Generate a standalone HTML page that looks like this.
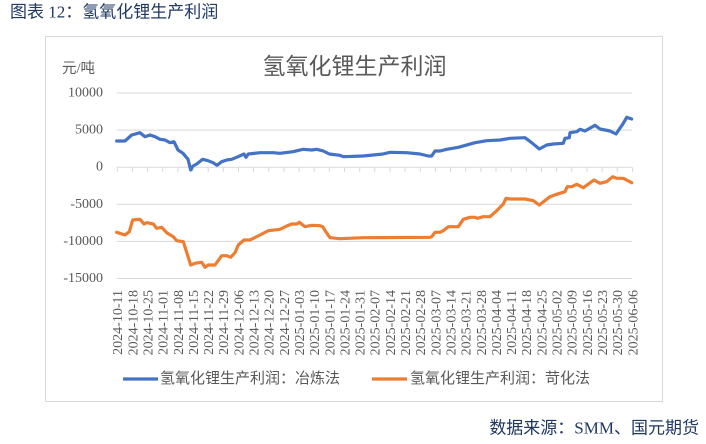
<!DOCTYPE html>
<html>
<head>
<meta charset="utf-8">
<style>
  html,body{margin:0;padding:0;background:#fff;}
  body{width:706px;height:444px;overflow:hidden;}
  svg{display:block;}
  .cjk{font-family:"Liberation Serif","Noto Sans CJK SC",sans-serif;}
  .num{font-family:"Liberation Serif",serif;}
</style>
</head>
<body>
<svg width="706" height="444" viewBox="0 0 706 444" xmlns="http://www.w3.org/2000/svg">
  <rect x="0" y="0" width="706" height="444" fill="#ffffff"/>
  <!-- header -->
  <text x="10" y="12" dominant-baseline="central" class="cjk" font-size="17" fill="#1F3763">图表 12：氢氧化锂生产利润</text>
  <!-- chart box -->
  <rect x="45.5" y="36.5" width="617" height="365" fill="#ffffff" stroke="#d9d9d9" stroke-width="1"/>
  <!-- title -->
  <text x="354.5" y="64" text-anchor="middle" dominant-baseline="central" font-family="'Noto Sans CJK SC',sans-serif" font-size="23" fill="#595959">氢氧化锂生产利润</text>
  <!-- unit -->
  <text x="62" y="69" dominant-baseline="central" class="cjk" font-size="14.5" fill="#595959">元/吨</text>
  <!-- gridlines -->
  <g stroke="#d9d9d9" stroke-width="1">
    <line x1="116.7" y1="93" x2="632" y2="93"/>
    <line x1="116.7" y1="130.1" x2="632" y2="130.1"/>
    <line x1="116.7" y1="167.2" x2="632" y2="167.2"/>
    <line x1="116.7" y1="204.3" x2="632" y2="204.3"/>
    <line x1="116.7" y1="241.4" x2="632" y2="241.4"/>
    <line x1="116.7" y1="278.5" x2="632" y2="278.5"/>
  </g>
  <!-- y labels -->
  <g class="num" font-size="14" fill="#595959" text-anchor="end" dominant-baseline="central">
    <text x="103" y="93">10000</text>
    <text x="103" y="130.1">5000</text>
    <text x="103" y="167.2">0</text>
    <text x="103" y="204.3">-5000</text>
    <text x="103" y="241.4">-10000</text>
    <text x="103" y="278.5">-15000</text>
  </g>
  <!-- ticks -->
  <g stroke="#d9d9d9" stroke-width="1" id="ticks">
    <line x1="117.3" y1="167.2" x2="117.3" y2="172"/><line x1="132.4" y1="167.2" x2="132.4" y2="172"/><line x1="147.6" y1="167.2" x2="147.6" y2="172"/><line x1="162.7" y1="167.2" x2="162.7" y2="172"/><line x1="177.9" y1="167.2" x2="177.9" y2="172"/><line x1="193.0" y1="167.2" x2="193.0" y2="172"/><line x1="208.2" y1="167.2" x2="208.2" y2="172"/><line x1="223.3" y1="167.2" x2="223.3" y2="172"/><line x1="238.5" y1="167.2" x2="238.5" y2="172"/><line x1="253.6" y1="167.2" x2="253.6" y2="172"/><line x1="268.8" y1="167.2" x2="268.8" y2="172"/><line x1="283.9" y1="167.2" x2="283.9" y2="172"/><line x1="299.1" y1="167.2" x2="299.1" y2="172"/><line x1="314.2" y1="167.2" x2="314.2" y2="172"/><line x1="329.4" y1="167.2" x2="329.4" y2="172"/><line x1="344.5" y1="167.2" x2="344.5" y2="172"/><line x1="359.7" y1="167.2" x2="359.7" y2="172"/><line x1="374.8" y1="167.2" x2="374.8" y2="172"/><line x1="390.0" y1="167.2" x2="390.0" y2="172"/><line x1="405.1" y1="167.2" x2="405.1" y2="172"/><line x1="420.3" y1="167.2" x2="420.3" y2="172"/><line x1="435.4" y1="167.2" x2="435.4" y2="172"/><line x1="450.6" y1="167.2" x2="450.6" y2="172"/><line x1="465.7" y1="167.2" x2="465.7" y2="172"/><line x1="480.9" y1="167.2" x2="480.9" y2="172"/><line x1="496.0" y1="167.2" x2="496.0" y2="172"/><line x1="511.2" y1="167.2" x2="511.2" y2="172"/><line x1="526.3" y1="167.2" x2="526.3" y2="172"/><line x1="541.5" y1="167.2" x2="541.5" y2="172"/><line x1="556.6" y1="167.2" x2="556.6" y2="172"/><line x1="571.8" y1="167.2" x2="571.8" y2="172"/><line x1="586.9" y1="167.2" x2="586.9" y2="172"/><line x1="602.1" y1="167.2" x2="602.1" y2="172"/><line x1="617.2" y1="167.2" x2="617.2" y2="172"/><line x1="632.4" y1="167.2" x2="632.4" y2="172"/>
  </g>
  <!-- x labels -->
  <g class="num" font-size="14" fill="#595959" text-anchor="end">
    <text transform="translate(117.3,290) rotate(-90)" dy="0.35em">2024-10-11</text>
    <text transform="translate(132.4,290) rotate(-90)" dy="0.35em">2024-10-18</text>
    <text transform="translate(147.6,290) rotate(-90)" dy="0.35em">2024-10-25</text>
    <text transform="translate(162.7,290) rotate(-90)" dy="0.35em">2024-11-01</text>
    <text transform="translate(177.9,290) rotate(-90)" dy="0.35em">2024-11-08</text>
    <text transform="translate(193.0,290) rotate(-90)" dy="0.35em">2024-11-15</text>
    <text transform="translate(208.2,290) rotate(-90)" dy="0.35em">2024-11-22</text>
    <text transform="translate(223.3,290) rotate(-90)" dy="0.35em">2024-11-29</text>
    <text transform="translate(238.5,290) rotate(-90)" dy="0.35em">2024-12-06</text>
    <text transform="translate(253.6,290) rotate(-90)" dy="0.35em">2024-12-13</text>
    <text transform="translate(268.8,290) rotate(-90)" dy="0.35em">2024-12-20</text>
    <text transform="translate(283.9,290) rotate(-90)" dy="0.35em">2024-12-27</text>
    <text transform="translate(299.1,290) rotate(-90)" dy="0.35em">2025-01-03</text>
    <text transform="translate(314.2,290) rotate(-90)" dy="0.35em">2025-01-10</text>
    <text transform="translate(329.4,290) rotate(-90)" dy="0.35em">2025-01-17</text>
    <text transform="translate(344.5,290) rotate(-90)" dy="0.35em">2025-01-24</text>
    <text transform="translate(359.7,290) rotate(-90)" dy="0.35em">2025-01-31</text>
    <text transform="translate(374.8,290) rotate(-90)" dy="0.35em">2025-02-07</text>
    <text transform="translate(390.0,290) rotate(-90)" dy="0.35em">2025-02-14</text>
    <text transform="translate(405.1,290) rotate(-90)" dy="0.35em">2025-02-21</text>
    <text transform="translate(420.3,290) rotate(-90)" dy="0.35em">2025-02-28</text>
    <text transform="translate(435.4,290) rotate(-90)" dy="0.35em">2025-03-07</text>
    <text transform="translate(450.6,290) rotate(-90)" dy="0.35em">2025-03-14</text>
    <text transform="translate(465.7,290) rotate(-90)" dy="0.35em">2025-03-21</text>
    <text transform="translate(480.9,290) rotate(-90)" dy="0.35em">2025-03-28</text>
    <text transform="translate(496.0,290) rotate(-90)" dy="0.35em">2025-04-04</text>
    <text transform="translate(511.2,290) rotate(-90)" dy="0.35em">2025-04-11</text>
    <text transform="translate(526.3,290) rotate(-90)" dy="0.35em">2025-04-18</text>
    <text transform="translate(541.5,290) rotate(-90)" dy="0.35em">2025-04-25</text>
    <text transform="translate(556.6,290) rotate(-90)" dy="0.35em">2025-05-02</text>
    <text transform="translate(571.8,290) rotate(-90)" dy="0.35em">2025-05-09</text>
    <text transform="translate(586.9,290) rotate(-90)" dy="0.35em">2025-05-16</text>
    <text transform="translate(602.1,290) rotate(-90)" dy="0.35em">2025-05-23</text>
    <text transform="translate(617.2,290) rotate(-90)" dy="0.35em">2025-05-30</text>
    <text transform="translate(632.4,290) rotate(-90)" dy="0.35em">2025-06-06</text>
  </g>
  <!-- series: orange -->
  <polyline fill="none" stroke="#ED7D31" stroke-width="3.2" stroke-linejoin="round" stroke-linecap="round"
    points="116.7,232.3 125,235 129.3,231.7 132.7,220 140,219.3 144,224 146.7,222.7 153.3,224 156.7,228.3 161.7,227.3 166.7,232.7 173.3,236.7 176.7,240.7 183.3,241.7 190.7,265 195,263.3 201.7,262.3 205,267.3 208.3,265 215,265 221.7,255.7 226.7,255.7 230.7,257.3 235,252.7 238.3,245 244,240 250,240 260,235 268.3,230.7 280,229.3 286.7,226 291.7,224 296.7,224 299.3,222.3 305,226.7 311.7,225.3 320,225.7 322.7,226.7 327.3,234 330,237.7 340,238.7 363.3,237.7 430,237.3 431.7,236.7 435,232.3 440,232.3 443.3,230.7 448.3,226.7 458.3,226.7 463.3,219.3 470,217.3 475,217.3 477.3,218.3 483.3,216.7 490,216.7 496.7,210.7 503.3,204 506,198.3 510,199 525,199 533.3,200.7 539.3,205 550,196.7 556.7,194.3 565,191.7 567.3,186.7 571.7,186.7 576.7,184.3 583.3,187.7 594,180 600,183.3 606.7,181.7 612.7,176.7 616.7,178.3 623.3,178.3 631.7,182.7"/>
  <!-- series: blue -->
  <polyline fill="none" stroke="#4472C4" stroke-width="3.2" stroke-linejoin="round" stroke-linecap="round"
    points="116.7,141 125,141 131.7,135 140,132.7 145,136.7 150,135 155,136.7 160,139.3 165,140 170,142.7 174,141.7 178,150 183,153.3 188,159.3 190.7,170 193,166 196.7,164 202.7,159.3 208,160.7 213,162.7 217,165.3 221.7,161.7 226.7,160 231.7,159.3 238,156.7 244,154 246,157.3 248.3,154 260,152.7 273,152.7 280,153.3 293,151.7 303,149.3 311.7,150 316.7,149.3 323.3,151 329.3,154 340,155.3 343.3,156.7 363,156 383,154 390,152.3 406.7,152.7 420,154 428.3,156 431.7,156 435,151 440,151 446.7,149.3 458.3,147.3 475,142.7 486.7,140.7 500,140 510,138.3 525,137.7 531.7,142.7 539.3,149 546.7,145 553.3,144 563.3,143.3 565,138.3 569.3,137.7 570,132.7 576.7,131.7 580,129.3 585,131 595,125.3 600,129 610,131 616,134 623.3,123.3 626.7,117.3 631.7,119"/>
  <!-- legend -->
  <line x1="123" y1="379" x2="158" y2="379" stroke="#4472C4" stroke-width="3.2"/>
  <text x="160" y="379" dominant-baseline="central" class="cjk" font-size="15" fill="#595959">氢氧化锂生产利润：冶炼法</text>
  <line x1="372" y1="379" x2="407" y2="379" stroke="#ED7D31" stroke-width="3.2"/>
  <text x="410" y="379" dominant-baseline="central" class="cjk" font-size="15" fill="#595959">氢氧化锂生产利润：苛化法</text>
  <!-- footer -->
  <text x="699" y="428" text-anchor="end" dominant-baseline="central" class="cjk" font-size="17" fill="#1F3763">数据来源：SMM、国元期货</text>
</svg>
</body>
</html>
